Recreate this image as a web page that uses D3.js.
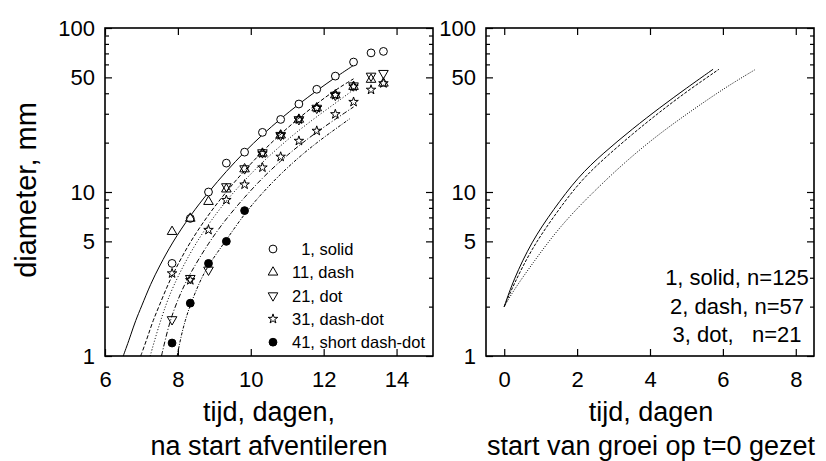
<!DOCTYPE html>
<html>
<head>
<meta charset="utf-8">
<script src="https://cdn.jsdelivr.net/npm/d3@7"></script>
<style>
  body { margin: 0; background: #fff; }
  svg text { font-family: "Liberation Sans", Arial, sans-serif; fill: #000; }
</style>
</head>
<body>
<svg id="chart" width="826" height="461"></svg>
<script>
// ---- data ----
// left panel: sampling days and measured diameters (mm)
var days = [7.84, 8.34, 8.84, 9.33, 9.83, 10.32, 10.82, 11.32, 11.81, 12.32, 12.82, 13.30, 13.64];
var s1Circle = [3.67, 6.9, 10, 15, 17.5, 23.1, 27.7, 34.4, 42.3, 50.9, 62, 70.5, 72];
var s11Up = [5.73, 6.9, 8.73, 10.4, 13.8, 17.2, 22.2, 27.7, 32.5, 39, 43.9, 48.5, 46];
var s21Down = [1.67, 2.98, 3.35, 10.8, 13.9, 17.4, 22.2, 27.7, 32.5, 39, 44.5, 51, 53];
var s31Star = [3.19, 2.9, 5.87, 8.94, 11.1, 14.1, 16.4, 20.5, 23.6, 29.8, 35.4, 42, 46];
var s31StarUpperDays = [10.32, 10.82, 11.32, 11.81, 12.32, 12.82];
var s31StarUpper = [17.2, 22.2, 27.7, 32.5, 39, 43.9];
var s41DotDays = [7.84, 8.34, 8.84, 9.33, 9.83];
var s41Dot = [1.2, 2.1, 3.67, 5.0, 7.7];

// left panel fitted curves [day, diameter]
var fitSolid = [[6.5,1],[6.6,1.15],[6.7,1.33],[6.84,1.65],[7.0,2.0],[7.25,2.75],[7.5,3.55],[7.84,4.9],[8.34,7.2],[8.84,10],[9.33,13.4],[9.83,17.6],[10.32,22.4],[10.82,28],[11.32,34.4],[11.81,41.5],[12.32,50],[12.86,60]];
var fitDash = [[6.98,1],[7.08,1.15],[7.18,1.33],[7.32,1.65],[7.48,2.0],[7.73,2.75],[7.98,3.55],[8.32,4.9],[8.82,7.2],[9.32,10],[9.81,13.4],[10.31,17.6],[10.8,22.4],[11.3,28],[11.8,34.4],[12.29,41.5],[12.82,49]];
var fitDot = [[7.24,1],[7.34,1.2],[7.45,1.45],[7.6,1.85],[7.84,2.6],[8.34,4.3],[8.84,6.4],[9.33,8.9],[9.83,11.8],[10.32,15.2],[10.82,19.2],[11.32,23.8],[11.81,28.8],[12.32,34.8],[12.82,42]];
var fitDashDot = [[7.55,1],[7.65,1.25],[7.82,1.75],[8.1,2.5],[8.34,3.2],[8.84,4.9],[9.33,6.9],[9.83,9.3],[10.32,12.2],[10.82,15.5],[11.32,19.2],[11.81,23.2],[12.32,27.8],[12.82,33]];
var fitShortDashDot = [[7.98,1],[8.08,1.3],[8.2,1.65],[8.34,2.05],[8.6,2.85],[8.84,3.6],[9.33,5.1],[9.83,7.4],[10.32,9.9],[10.82,12.9],[11.32,16.3],[11.81,20],[12.32,24.2],[12.72,28]];

var legendLeft = ["\u20071, solid", "11, dash", "21, dot", "31, dash-dot", "41, short dash-dot"];

// right panel: growth after start, t = 0
var grow1 = [[0,2],[0.25,2.9],[0.75,4.98],[1.34,7.77],[2.03,12.4],[2.71,17.2],[3.53,24.4],[4.27,32.7],[5.0,43],[5.73,56]];
var grow2 = [[0,2],[0.25,2.7],[0.75,4.5],[1.34,7.0],[2.03,11.3],[2.71,15.8],[3.53,22.7],[4.27,30.8],[5.0,40.9],[5.89,56]];
var grow3 = [[0,2],[0.25,2.5],[0.75,3.6],[1.53,6.2],[2.44,10],[3.35,15.5],[4.27,22.8],[5.18,31.8],[6.09,43.7],[6.87,55.5]];
var legendRight = ["1, solid, n=125", "2, dash, n=57", "3, dot,   n=21"];

var yMajor = [1, 5, 10, 50, 100];
var xTicksLeft = [6, 8, 10, 12, 14];
var xTicksRight = [0, 2, 4, 6, 8];

// ---- drawing ----
var svg = d3.select("#chart");
var plotTop = 28, plotBottom = 356;
var y = d3.scaleLog().domain([1, 100]).range([plotBottom, plotTop]);
var yMinor = y.ticks().filter(function(v) { return yMajor.indexOf(v) < 0; });

var xl = d3.scaleLinear().domain([6, 15]).range([105, 433]);
var xr = d3.scaleLinear().domain([-0.5, 8.5]).range([486, 814]);

function frame(x, xticks)
{
	var x0 = x.range()[0], x1 = x.range()[1];
	var g = svg.append("g");
	g.append("g").attr("transform", "translate(" + x0 + ",0)")
		.call(d3.axisLeft(y).tickValues(yMajor).tickSizeInner(-7).tickSizeOuter(0).tickPadding(10).tickFormat(d3.format("d")));
	g.append("g").attr("transform", "translate(" + x0 + ",0)")
		.call(d3.axisLeft(y).tickValues(yMinor).tickSizeInner(-4).tickSizeOuter(0).tickFormat(""));
	g.append("g").attr("transform", "translate(" + x1 + ",0)")
		.call(d3.axisRight(y).tickValues(yMajor).tickSizeInner(-7).tickSizeOuter(0).tickFormat(""));
	g.append("g").attr("transform", "translate(" + x1 + ",0)")
		.call(d3.axisRight(y).tickValues(yMinor).tickSizeInner(-4).tickSizeOuter(0).tickFormat(""));
	g.append("g").attr("transform", "translate(0," + plotBottom + ")")
		.call(d3.axisBottom(x).tickValues(xticks).tickSizeInner(-7).tickSizeOuter(0).tickPadding(15));
	g.append("g").attr("transform", "translate(0," + plotTop + ")")
		.call(d3.axisTop(x).tickValues(xticks).tickSizeInner(-7).tickSizeOuter(0).tickFormat(""));
	g.selectAll(".domain").remove();
	g.selectAll(".tick line").attr("stroke", "#000").attr("stroke-width", 1.2);
	g.selectAll(".tick text").style("font-size", "22px").attr("fill", "#000");
	g.append("rect").attr("x", x0).attr("y", plotTop).attr("width", x1 - x0).attr("height", plotBottom - plotTop)
		.attr("fill", "none").attr("stroke", "#000").attr("stroke-width", 1.6);
}
frame(xl, xTicksLeft);
frame(xr, xTicksRight);

function drawLine(x, pts, dash)
{
	var line = d3.line().x(function(d) { return x(d[0]); }).y(function(d) { return y(d[1]); }).curve(d3.curveBasis);
	svg.append("path").datum(pts).attr("d", line).attr("fill", "none")
		.attr("stroke", "#000").attr("stroke-width", 1).attr("stroke-dasharray", dash);
}
drawLine(xl, fitSolid, null);
drawLine(xl, fitDash, "4,2");
drawLine(xl, fitDot, "1,2");
drawLine(xl, fitDashDot, "5,2,1,2");
drawLine(xl, fitShortDashDot, "3,1.5,1,1.5");

drawLine(xr, grow1, null);
drawLine(xr, grow2, "3,1.5");
drawLine(xr, grow3, "1,1.5");

var symCircle = d3.symbol().type(d3.symbolCircle).size(48);
var symTri = d3.symbol().type(d3.symbolTriangle).size(40);
var symStar = d3.symbol().type(d3.symbolStar).size(28);

function markers(xs, ys, sym, rot, fill)
{
	svg.append("g").selectAll("path").data(ys).enter().append("path")
		.attr("d", sym)
		.attr("transform", function(d, i) { return "translate(" + xl(xs[i]) + "," + y(d) + ") rotate(" + rot + ")"; })
		.attr("fill", fill).attr("stroke", "#000").attr("stroke-width", 1);
}
markers(days, s1Circle, symCircle, 0, "#fff");
markers(days, s11Up, symTri, 0, "none");
markers(days, s21Down, symTri, 180, "none");
markers(days, s31Star, symStar, 0, "none");
markers(s31StarUpperDays, s31StarUpper, symStar, 0, "none");
markers(s41DotDays, s41Dot, symCircle, 0, "#000");

// left legend
var legSyms = [[symCircle, 0, "none"], [symTri, 0, "none"], [symTri, 180, "none"], [symStar, 0, "none"], [symCircle, 0, "#000"]];
var leg = svg.append("g");
legendLeft.forEach(function(t, i)
{
	var yy = 249 + i * 23.3;
	leg.append("path").attr("d", legSyms[i][0]).attr("transform", "translate(273," + yy + ") rotate(" + legSyms[i][1] + ")")
		.attr("fill", legSyms[i][2]).attr("stroke", "#000").attr("stroke-width", 1);
	leg.append("text").attr("x", 292).attr("y", yy).attr("dy", "0.36em").style("font-size", "16.5px").text(t);
});

// right legend
legendRight.forEach(function(t, i)
{
	svg.append("text").attr("x", 737).attr("y", 285 + i * 28.5).attr("text-anchor", "middle")
		.style("font-size", "22px").style("white-space", "pre").text(t);
});

// axis titles
svg.append("text").attr("transform", "translate(36,190) rotate(-90)").attr("text-anchor", "middle")
	.style("font-size", "29px").text("diameter, mm");
svg.append("text").attr("x", 269).attr("y", 421).attr("text-anchor", "middle").style("font-size", "27px").text("tijd, dagen,");
svg.append("text").attr("x", 269).attr("y", 455).attr("text-anchor", "middle").style("font-size", "27px").text("na start afventileren");
svg.append("text").attr("x", 651).attr("y", 421).attr("text-anchor", "middle").style("font-size", "27px").text("tijd, dagen");
svg.append("text").attr("x", 651).attr("y", 455).attr("text-anchor", "middle").style("font-size", "27px").text("start van groei op t=0 gezet");
</script>
</body>
</html>
